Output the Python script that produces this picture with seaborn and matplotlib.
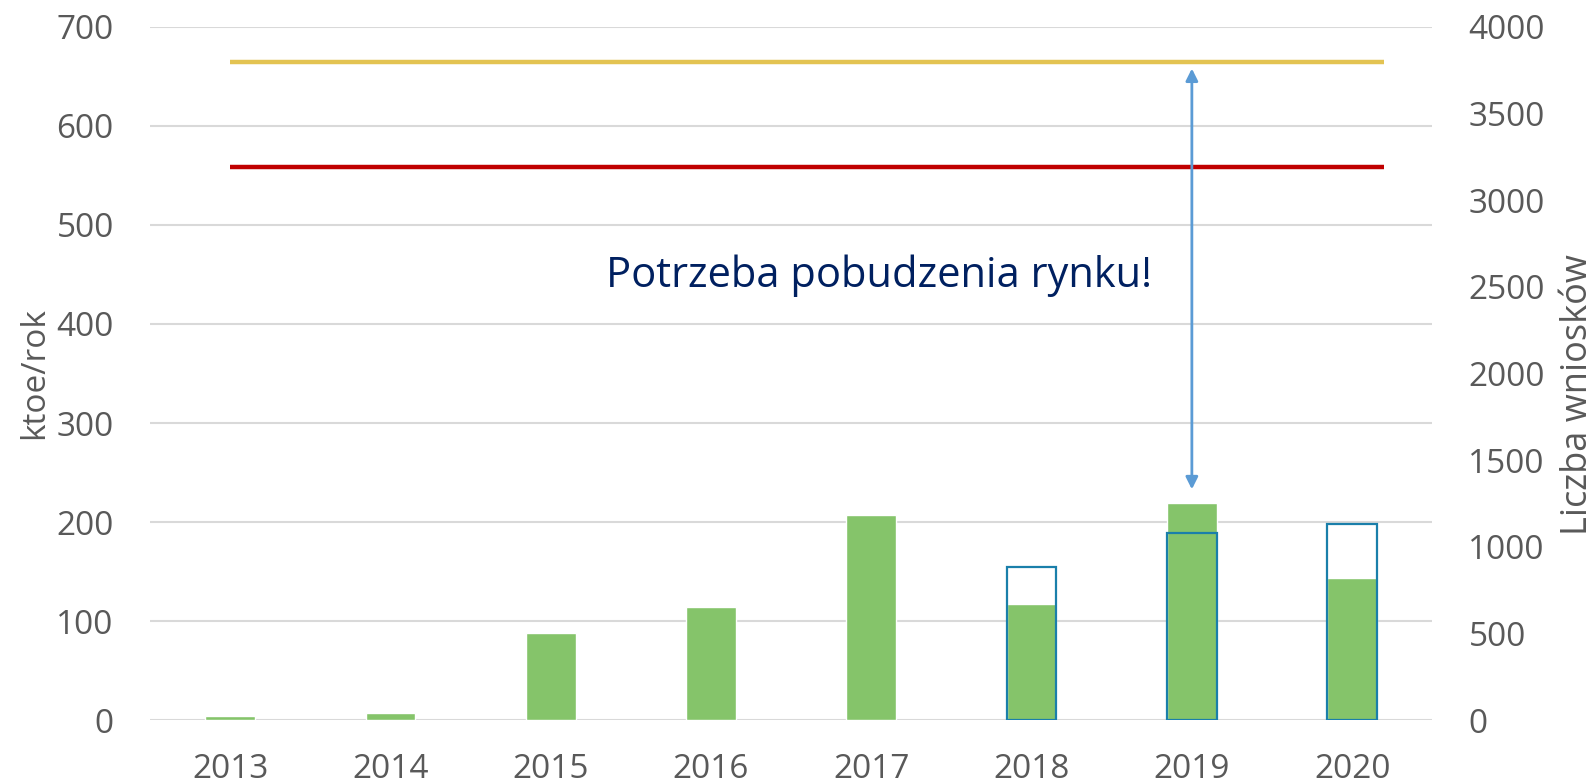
import matplotlib
matplotlib.use("Agg")
import matplotlib.pyplot as plt
import pandas as pd
import seaborn as sns

years = ["2013", "2014", "2015", "2016", "2017", "2018", "2019", "2020"]
ktoe = [4, 7, 88, 114, 207, 117, 219, 143]
wnioski_years = ["2018", "2019", "2020"]
wnioski = [885, 1080, 1130]
cel_gorny = 665
cel_dolny = 559
arrow_low = 233
arrow_high = 658
note = "Potrzeba pobudzenia rynku!"

GREEN = "#85C46A"
OUTLINE = "#1A7FAA"
YELLOW = "#E3C352"
RED = "#C00000"
GRAY = "#595959"

sns.set_theme(style="white")
plt.rcParams["font.family"] = ["Open Sans", "DejaVu Sans"]

df = pd.DataFrame({"rok": years, "ktoe": ktoe})
dw = pd.DataFrame({"rok": wnioski_years, "wnioski": wnioski})

fig = plt.figure(figsize=(15.95, 7.84), dpi=100)
ax = fig.add_axes([0.094, 0.0816, 0.804, 0.884])

sns.barplot(data=df, x="rok", y="ktoe", order=years, color=GREEN,
            width=0.31, saturation=1, ax=ax, zorder=2)
ax.set_ylim(0, 700)
ax.set_xlim(-0.5, 7.5)
ax.set_yticks(range(0, 701, 100))
ax.yaxis.grid(True, color="#D9D9D9", linewidth=1.5, zorder=0)
ax.set_axisbelow(True)

ax.hlines(cel_gorny, 0, 7.2, color=YELLOW, linewidth=3.2, zorder=3)
ax.hlines(cel_dolny, 0, 7.2, color=RED, linewidth=3.2, zorder=3)

ax.annotate("", xy=(6, arrow_high), xytext=(6, arrow_low),
            arrowprops=dict(arrowstyle="<|-|>", color="#5B9BD5", lw=2,
                            mutation_scale=18, shrinkA=0, shrinkB=0),
            zorder=4)
ax.text(4.05, 449, note, ha="center", va="center", fontsize=30,
        color="#002060")

ax2 = ax.twinx()
sns.barplot(data=dw, x="rok", y="wnioski", order=years, fill=False,
            width=0.31, edgecolor=OUTLINE, linewidth=1.6, ax=ax2,
            saturation=1, zorder=5)
ax2.set_ylim(0, 4000)
ax2.set_yticks(range(0, 4001, 500))
ax2.set_xlim(-0.5, 7.5)

for a in (ax, ax2):
    for s in a.spines.values():
        s.set_visible(False)
    a.tick_params(axis="y", length=0, labelsize=24, colors=GRAY, pad=26)
    a.tick_params(axis="x", length=0, labelsize=24, colors=GRAY, pad=24)

ax.set_xlabel("")
ax.set_ylabel("ktoe/rok", fontsize=24, color=GRAY, labelpad=4)
ax2.set_ylabel("Liczba wniosków", fontsize=26, color=GRAY, labelpad=11)
ax2.yaxis.label.set_y(0.47)

fig.savefig("out.png", dpi=100)
